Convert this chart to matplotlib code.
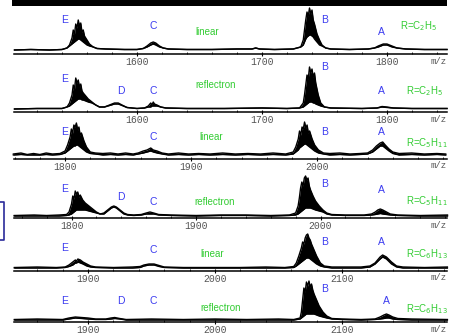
import matplotlib.pyplot as plt
from matplotlib.patches import Rectangle
from matplotlib.lines import Line2D

W, H = 449, 335

# ---- spectra (m/z, upper envelope, lower envelope), heights in arbitrary units ----
# R=C2H5 linear
mz1 = [1502, 1515, 1530, 1540, 1544, 1546, 1548, 1549, 1550, 1551, 1552, 1553, 1554, 1555, 1556, 1557, 1558,
       1560, 1562, 1565, 1568, 1575, 1590, 1600, 1605, 1608, 1611, 1613, 1615, 1618, 1621, 1625, 1640, 1660,
       1680, 1692, 1695, 1698, 1710, 1725, 1731, 1733, 1734, 1735, 1736, 1737, 1738, 1739, 1740, 1741, 1742,
       1744, 1746, 1748, 1751, 1755, 1770, 1785, 1790, 1793, 1797, 1800, 1804, 1808, 1815, 1830, 1848]
hi1 = [0, 0.5, 0, 0.5, 2, 5, 12, 20, 16, 26, 22, 30, 24, 27, 18, 20, 14,
       10, 6, 3, 1.5, 1, 0.5, 0.5, 1.5, 4, 7, 8, 7, 4, 2, 1, 0.5, 0.5,
       1, 1, 2, 1, 0.5, 1, 3, 10, 20, 30, 38, 34, 42, 36, 40, 30, 26,
       16, 10, 5, 2, 1, 0.5, 1, 2, 4, 6, 6, 4, 2, 1, 0.5, 0.5]
lo1 = [0, 0.5, 0, 0.5, 2, 4, 6, 7, 8, 9, 10, 11, 11, 10, 9, 8, 7,
       5, 4, 3, 1.5, 1, 0.5, 0.5, 1.5, 3, 5, 6, 5, 3, 2, 1, 0.5, 0.5,
       1, 1, 2, 1, 0.5, 1, 3, 5, 8, 11, 13, 14, 15, 15, 14, 13, 11,
       8, 5, 4, 2, 1, 0.5, 1, 2, 3, 5, 5, 3, 2, 1, 0.5, 0.5]

# R=C2H5 reflectron
mz2 = [1502, 1520, 1540, 1544, 1546, 1548, 1549, 1550, 1551, 1552, 1553, 1554, 1555, 1556, 1557, 1559, 1561,
       1564, 1567, 1570, 1574, 1578, 1582, 1585, 1588, 1592, 1600, 1606, 1609, 1611, 1612, 1613, 1614, 1616,
       1619, 1623, 1640, 1670, 1700, 1720, 1730, 1733, 1734, 1735, 1736, 1737, 1738, 1739, 1740, 1741, 1742,
       1743, 1745, 1747, 1750, 1755, 1780, 1792, 1796, 1800, 1805, 1820, 1848]
hi2 = [0, 0.5, 0.5, 2, 6, 14, 24, 20, 31, 26, 29, 22, 25, 18, 16, 13, 10,
       7, 4, 2, 2, 4, 6, 6, 4, 1.5, 0.5, 1, 3, 6, 4, 7, 5, 4,
       2, 1, 0.5, 0.5, 1, 0.5, 1, 6, 14, 24, 34, 30, 42, 36, 40, 32, 36,
       26, 14, 6, 2, 1, 0.5, 1, 2.5, 2, 1, 0.5, 0.5]
lo2 = [0, 0.5, 0.5, 2, 3, 5, 6, 7, 8, 9, 10, 10, 10, 9, 9, 8, 7,
       6, 4, 2, 2, 3.5, 5, 5, 3.5, 1.5, 0.5, 1, 2, 2, 3, 3, 3, 3,
       2, 1, 0.5, 0.5, 1, 0.5, 1, 2, 3, 4, 5, 6, 7, 7, 7, 6, 6,
       5, 4, 3, 2, 1, 0.5, 1, 2, 1.5, 1, 0.5, 0.5]

# R=C5H11 linear
mz3 = [1759, 1765, 1770, 1775, 1780, 1785, 1790, 1796, 1800, 1802, 1804, 1805, 1806, 1807, 1808, 1809, 1810,
       1811, 1812, 1813, 1815, 1817, 1820, 1824, 1830, 1836, 1842, 1848, 1854, 1858, 1862, 1865, 1868, 1870,
       1873, 1877, 1882, 1890, 1898, 1906, 1915, 1925, 1935, 1945, 1955, 1965, 1975, 1981, 1983, 1985, 1986,
       1987, 1988, 1989, 1990, 1991, 1992, 1993, 1994, 1996, 1998, 2001, 2005, 2010, 2018, 2026, 2034, 2040,
       2044, 2047, 2050, 2052, 2054, 2057, 2060, 2065, 2075, 2085, 2095, 2102]
hi3 = [1, 2, 0.5, 1.5, 0.5, 2, 1, 1.5, 4, 10, 18, 26, 22, 30, 28, 32, 25,
       28, 20, 22, 14, 8, 3, 2, 1.5, 2, 1, 2, 1, 2, 4, 5, 7, 5,
       4, 2, 1, 2, 1, 1.5, 1, 2, 1, 1.5, 1, 2, 1, 3, 8, 16, 24,
       20, 28, 26, 33, 27, 30, 22, 24, 16, 10, 5, 2, 1.5, 2, 1, 1.5, 2,
       5, 9, 12, 13, 10, 6, 3, 1.5, 2, 1, 1.5, 1]
lo3 = [0, 0.5, 0, 0, 0, 0.5, 0, 0.5, 2, 4, 6, 7, 8, 9, 9, 10, 10,
       9, 8, 7, 5, 3, 1.5, 1, 0, 0.5, 0, 0.5, 0, 1, 2, 3, 4, 3,
       2, 1, 0, 0.5, 0, 0.5, 0, 0.5, 0, 0.5, 0, 0.5, 0, 1, 3, 5, 7,
       8, 9, 10, 11, 11, 10, 9, 8, 6, 4, 2, 1, 0, 0.5, 0, 0.5, 1,
       3, 6, 9, 9, 7, 4, 1.5, 0, 0.5, 0, 0.5, 0]

# R=C5H11 reflectron
mz4 = [1754, 1770, 1780, 1790, 1796, 1798, 1800, 1801, 1802, 1803, 1804, 1805, 1806, 1807, 1809, 1811, 1814,
       1817, 1820, 1823, 1826, 1829, 1832, 1834, 1836, 1839, 1842, 1845, 1850, 1856, 1860, 1863, 1866, 1870,
       1880, 1900, 1920, 1940, 1960, 1975, 1980, 1982, 1983, 1984, 1985, 1986, 1987, 1988, 1989, 1990, 1991,
       1992, 1994, 1996, 1999, 2002, 2005, 2009, 2020, 2035, 2041, 2044, 2046, 2048, 2050, 2053, 2056, 2062,
       2080, 2102]
hi4 = [0.5, 1, 0.5, 1, 1.5, 4, 12, 20, 17, 25, 22, 24, 19, 21, 16, 13, 10,
       7, 4, 2, 3, 6, 9, 10, 9, 6, 3, 1.5, 1, 1.5, 3, 4, 3, 1.5,
       1, 0.5, 1, 1, 0.5, 1, 3, 10, 18, 28, 34, 30, 38, 40, 36, 38, 30,
       26, 20, 15, 10, 6, 3, 1.5, 1, 1, 2, 4, 6, 7, 6, 4, 2, 1,
       0.5, 1]
lo4 = [0, 0, 0, 0, 0.5, 1, 2, 3, 4, 5, 6, 6, 6, 6, 6, 6, 5,
       4, 3, 2, 2, 5, 8, 9, 8, 5, 2, 1, 0.5, 1, 2, 2, 2, 1,
       0.5, 0, 0.5, 0.5, 0, 0.5, 1, 2, 3, 4, 5, 6, 7, 8, 8, 8, 8,
       8, 7, 6, 5, 4, 2, 1, 0.5, 0.5, 1, 1.5, 2, 2.5, 2, 1.5, 1, 0.5,
       0, 0]

# R=C6H13 linear
mz5 = [1842, 1860, 1875, 1882, 1885, 1888, 1890, 1891, 1892, 1894, 1896, 1899, 1902, 1906, 1920, 1935, 1941,
       1944, 1948, 1952, 1956, 1960, 1975, 2000, 2020, 2040, 2055, 2062, 2064, 2066, 2068, 2069, 2070, 2071,
       2072, 2073, 2074, 2075, 2076, 2078, 2080, 2083, 2086, 2092, 2105, 2115, 2122, 2126, 2130, 2132, 2135,
       2139, 2143, 2148, 2165, 2183]
hi5 = [0.5, 1, 0.5, 1, 3, 6, 8, 7, 9, 8, 6, 4, 2, 1, 0.5, 1, 1.5,
       3, 4, 4, 2.5, 1, 0.5, 0.5, 0.5, 1, 0.5, 1.5, 5, 12, 20, 26, 24, 30,
       33, 34, 30, 28, 24, 18, 12, 5, 2, 1, 1, 1, 2, 5, 11, 13, 11,
       6, 2, 1, 0.5, 1]
lo5 = [0, 0, 0, 0.5, 1.5, 3, 5, 5, 6, 5, 4, 2, 1, 0.5, 0, 0, 0.5,
       2, 3, 3, 1.5, 0.5, 0, 0, 0, 0, 0, 0.5, 2, 4, 6, 7, 8, 9,
       10, 10, 10, 9, 8, 6, 4, 2, 1, 0, 0, 0, 1, 4, 9, 11, 9,
       4, 1, 0, 0, 0]

# R=C6H13 reflectron
mz6 = [1842, 1860, 1880, 1885, 1890, 1895, 1900, 1906, 1914, 1918, 1921, 1925, 1930, 1950, 1975, 2000, 2025,
       2050, 2062, 2067, 2068, 2069, 2070, 2071, 2072, 2073, 2074, 2075, 2076, 2077, 2078, 2080, 2082, 2085,
       2088, 2092, 2100, 2115, 2126, 2130, 2133, 2135, 2137, 2140, 2144, 2155, 2183]
hi6 = [0.5, 1, 0.5, 2, 3, 2.5, 2, 1, 1, 2, 2.5, 1.5, 0.5, 1, 0.5, 1, 0.5,
       1, 0.5, 2, 8, 20, 32, 28, 38, 34, 39, 33, 36, 30, 26, 20, 14, 8,
       4, 1.5, 1, 0.5, 1, 3, 5, 6, 5, 3, 1.5, 1, 0.5]
lo6 = [0, 0, 0, 1, 2, 1.5, 1, 0.5, 0.5, 1, 1.5, 1, 0, 0, 0, 0, 0,
       0, 0, 1, 2, 3, 4, 5, 6, 6, 6, 6, 6, 6, 6, 5, 4, 3,
       2, 1, 0.5, 0, 0.5, 1, 1.5, 2, 2, 1, 0.5, 0, 0]

spectra = [(mz1, hi1, lo1), (mz2, hi2, lo2), (mz3, hi3, lo3),
           (mz4, hi4, lo4), (mz5, hi5, lo5), (mz6, hi6, lo6)]
mode_labels = ["linear", "reflectron", "linear", "reflectron", "linear", "reflectron"]
r_labels = [r"R=C$_2$H$_5$", r"R=C$_2$H$_5$", r"R=C$_5$H$_{11}$",
            r"R=C$_5$H$_{11}$", r"R=C$_6$H$_{13}$", r"R=C$_6$H$_{13}$"]
xticks = [[1600, 1700, 1800], [1600, 1700, 1800], [1800, 1900, 2000],
          [1800, 1900, 2000], [1900, 2000, 2100], [1900, 2000, 2100]]
xlims = [(1501.6, 1848), (1501.6, 1848), (1759.5, 2103),
         (1753.8, 2101.6), (1841.7, 2182.7), (1841.7, 2182.7)]

# layout in pixels: axis line y, baseline y
axis_y = [54, 112, 159, 218, 271, 322]
base_y = [50, 109, 155, 216, 268, 320]

# peak letters (letter, px x, px y) per panel
peak_tags = [
    [("E", 65, 20), ("C", 153, 26), ("B", 325, 20), ("A", 381, 32)],
    [("E", 65, 79), ("D", 121, 91), ("C", 153, 91), ("B", 325, 67), ("A", 381, 91)],
    [("E", 65, 132), ("C", 153, 137), ("B", 325, 132), ("A", 381, 132)],
    [("E", 65, 189), ("D", 121, 197), ("C", 153, 202), ("B", 325, 184), ("A", 381, 190)],
    [("E", 65, 248), ("C", 153, 250), ("B", 325, 242), ("A", 381, 242)],
    [("E", 65, 301), ("D", 121, 301), ("C", 153, 301), ("B", 325, 289), ("A", 386, 301)],
]
mode_xy = [(207, 32), (216, 85), (211, 137), (215, 202), (212, 254), (221, 308)]
# (px x, px y, alignment) of the R= labels
r_xy = [(400, 26, "left"), (406, 91, "left"), (448, 143, "right"),
        (448, 201, "right"), (448, 254, "right"), (448, 309, "right")]

BLUE = "#3c3cf0"
GREEN = "#33cc33"
GRAY = "#555555"


def fx(x):
    return x / W


def fy(y):
    return 1 - y / H


fig = plt.figure(figsize=(W / 100, H / 100), dpi=100)
fig.patch.set_facecolor("white")

PH = 46  # panel height in px
for i, (mz, hi, lo) in enumerate(spectra):
    off = axis_y[i] - base_y[i]
    ax = fig.add_axes([fx(14), fy(axis_y[i]), 433 / W, PH / H])
    ax.set_facecolor("none")
    ax.fill_between(mz, lo, hi, color="black", lw=0, clip_on=False)
    ax.plot(mz, hi, color="black", lw=1.0, clip_on=False)
    ax.plot(mz, lo, color="black", lw=1.0, clip_on=False)
    for s in ["top", "left", "right"]:
        ax.spines[s].set_visible(False)
    ax.spines["bottom"].set_linewidth(1.1)
    ax.set_yticks([])
    ax.set_xticks(xticks[i])
    ax.set_xticklabels([str(t) for t in xticks[i]], family="Liberation Mono",
                       fontsize=7, color=GRAY)
    ax.set_xticks(range(xticks[i][0] - 100, xticks[i][-1] + 101, 20), minor=True)
    ax.tick_params(axis="x", which="major", direction="inout", length=3, width=0.8, pad=1.0)
    ax.tick_params(axis="x", which="minor", direction="in", length=1.5, width=0.6)
    # limits last: set_xticks would otherwise widen them
    ax.set_xlim(*xlims[i])
    ax.set_ylim(-off, PH - off)

    fig.text(fx(431), fy(axis_y[i] + 7), "m/z", family="Liberation Mono", fontsize=6.5,
             color=GRAY, ha="left", va="center")
    for letter, px, py in peak_tags[i]:
        fig.text(fx(px), fy(py), letter, color=BLUE, fontsize=7.5,
                 family="Liberation Sans", ha="center", va="center")
    mx, my = mode_xy[i]
    fig.text(fx(mx), fy(my), mode_labels[i], color=GREEN, fontsize=7,
             family="Liberation Sans", ha="center", va="center")
    rx, ry, rha = r_xy[i]
    fig.text(fx(rx), fy(ry), r_labels[i], color=GREEN, fontsize=7,
             family="Liberation Sans", ha=rha, va="center")

# black band at top (bottom of preceding trace)
fig.add_artist(Rectangle((fx(12), fy(6)), (447 - 12) / W, 6 / H,
                         transform=fig.transFigure, color="black", lw=0))

# blue bracket on the left edge
fig.add_artist(Line2D([fx(0), fx(4), fx(4), fx(0)], [fy(202), fy(202), fy(240), fy(240)],
                      transform=fig.transFigure, color="#2a2a9a", lw=1.2))

fig.savefig("out.png", dpi=100)
